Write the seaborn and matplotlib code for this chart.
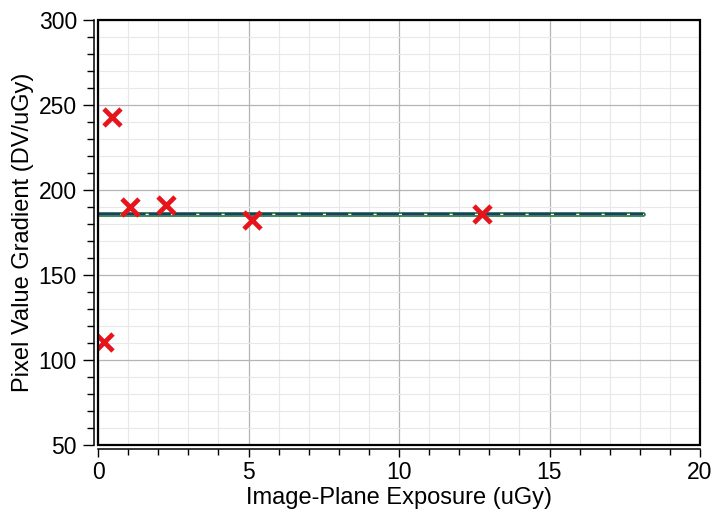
import matplotlib
matplotlib.use("Agg")
import matplotlib.pyplot as plt
from matplotlib.ticker import MultipleLocator
from matplotlib.patches import Rectangle
import seaborn as sns
import pandas as pd

# Measured gradient per exposure level
exposure = [0.2, 0.45, 1.05, 2.25, 5.1, 12.76]
gradient = [110.5, 242.8, 189.8, 191.2, 182.5, 185.8]

# Mean gradient drawn across the measured exposure range
mean_x = [0.0, 18.1]
mean_y = [185.7, 185.7]

x_ticks = [0, 5, 10, 15, 20]
y_ticks = [50, 100, 150, 200, 250, 300]

sns.set_theme(style="white")
plt.rcParams["font.family"] = ["Liberation Sans", "DejaVu Sans"]
plt.rcParams.update({"text.color": "black", "axes.labelcolor": "black",
                     "xtick.color": "black", "ytick.color": "black"})

fig = plt.figure(figsize=(7.14, 5.17), dpi=100)
ax = fig.add_axes([98 / 714, 1 - 445 / 517, 602 / 714, 425 / 517])

points = pd.DataFrame({"x": exposure, "y": gradient})
mean_line = pd.DataFrame({"x": mean_x, "y": mean_y})

# Mean line: green band, white core, dark blue dashes
sns.lineplot(data=mean_line, x="x", y="y", ax=ax, color="#2a7a38", lw=3.4,
             zorder=3, legend=False)
sns.lineplot(data=mean_line, x="x", y="y", ax=ax, color="white", lw=0.9,
             zorder=4, legend=False)
sns.lineplot(data=mean_line, x="x", y="y", ax=ax, color="#1b3a78", lw=1.6,
             zorder=5, legend=False)
ax.lines[-1].set_dashes([10, 1.4])

sns.scatterplot(data=points, x="x", y="y", ax=ax, marker="x", s=150,
                color="#e8141b", linewidth=3.4, zorder=6, legend=False)

ax.set_xlim(0, 20)
ax.set_ylim(50, 300)
ax.set_xticks(x_ticks)
ax.set_yticks(y_ticks)
ax.xaxis.set_minor_locator(MultipleLocator(1))
ax.yaxis.set_minor_locator(MultipleLocator(10))

ax.grid(which="major", color="#b4b4b4", lw=0.9, zorder=1)
ax.grid(which="minor", color="#e8e8e8", lw=0.8, zorder=0)
ax.set_axisbelow(True)

# Offset axis lines with a separate frame around the data area
for side in ("top", "right"):
    ax.spines[side].set_visible(False)
for side in ("left", "bottom"):
    ax.spines[side].set_position(("outward", 3.2))
    ax.spines[side].set_color("black")
    ax.spines[side].set_linewidth(1.1)
ax.add_patch(Rectangle((0, 0), 1, 1, transform=ax.transAxes, fill=False,
                       edgecolor="black", lw=1.6, zorder=10, clip_on=False))

ax.tick_params(axis="y", which="major", direction="out", length=8, width=1,
               color="black", labelcolor="black", labelsize=16.5, pad=4,
               left=True)
ax.tick_params(axis="y", which="minor", direction="out", length=5, width=1,
               color="black", left=True)
ax.tick_params(axis="x", which="major", direction="out", length=5.5, width=1,
               color="black", labelcolor="black", labelsize=16.5, pad=3,
               bottom=True)
ax.tick_params(axis="x", which="minor", direction="out", length=4, width=1,
               color="black", bottom=True)

ax.set_xlabel("Image-Plane Exposure (uGy)", fontsize=17, labelpad=2,
              color="black")
ax.set_ylabel("Pixel Value Gradient (DV/uGy)", fontsize=17, labelpad=3,
              color="black")

fig.savefig("out.png", dpi=100)
